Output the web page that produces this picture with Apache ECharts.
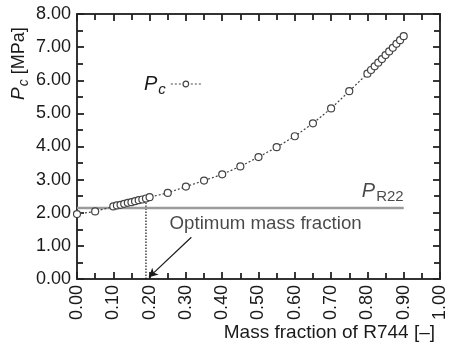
<!DOCTYPE html>
<html>
<head>
<meta charset="utf-8">
<script src="https://cdn.jsdelivr.net/npm/echarts@6/dist/echarts.min.js"></script>
<style>
  html, body { margin: 0; padding: 0; background: #fff; }
  #chart { width: 449px; height: 352px; }
</style>
</head>
<body>
<div id="chart"></div>
<script>
// mass fraction of R744 and condensing pressure
const massFraction = [0.00, 0.05, 0.10, 0.11, 0.12, 0.13, 0.14, 0.15, 0.16, 0.17, 0.18, 0.19, 0.20,
  0.25, 0.30, 0.35, 0.40, 0.45, 0.50, 0.55, 0.60, 0.65, 0.70, 0.75,
  0.80, 0.81, 0.82, 0.83, 0.84, 0.85, 0.86, 0.87, 0.88, 0.89, 0.90]
const pc = [1.96, 2.04, 2.19, 2.22, 2.24, 2.27, 2.30, 2.32, 2.35, 2.38, 2.40, 2.43, 2.47,
  2.60, 2.79, 2.97, 3.16, 3.40, 3.68, 3.98, 4.31, 4.70, 5.15, 5.67,
  6.20, 6.31, 6.42, 6.53, 6.64, 6.76, 6.87, 6.98, 7.10, 7.21, 7.33]
const pR22 = 2.14
const pR22Range = [0.00, 0.90]
const optimumFraction = 0.19
const optimumPc = 2.43
const xTicks = ['0.00', '0.10', '0.20', '0.30', '0.40', '0.50', '0.60', '0.70', '0.80', '0.90', '1.00']
const yTicks = ['0.00', '1.00', '2.00', '3.00', '4.00', '5.00', '6.00', '7.00', '8.00']

const font = 'Liberation Sans, Arial, sans-serif'
const ink = '#1a1a1a'
const axisInk = '#333'

// fresh objects for every axis, ticks pointing into the plot
function frame (extra) {
  return Object.assign({
    type: 'value',
    axisLine: { show: true, onZero: false, lineStyle: { color: axisInk, width: 2 } },
    axisTick: { show: true, inside: true, length: 7, lineStyle: { color: '#222', width: 1.8 } },
    minorTick: { show: true, splitNumber: 2, length: 6, lineStyle: { color: '#222', width: 1.8 } },
    splitLine: { show: false },
    minorSplitLine: { show: false }
  }, extra)
}
const markerStyle = { color: '#fff', borderColor: '#444', borderWidth: 1.2 }

let chart = echarts.init(document.getElementById('chart'))

chart.setOption({
  backgroundColor: '#fff',
  animation: false,
  grid: { left: 77, right: 4, top: 14, bottom: 73 },
  legend: {
    data: ['Pc'],
    left: 139,
    top: 69,
    align: 'right',
    itemWidth: 30,
    itemHeight: 7,
    itemGap: 6,
    itemStyle: markerStyle,
    lineStyle: { color: '#666', width: 1.2, type: [2, 2] },
    formatter: () => '{i|P}{s|c}',
    textStyle: {
      rich: {
        i: { fontFamily: font, fontStyle: 'italic', fontSize: 20, color: ink },
        s: { fontFamily: font, fontStyle: 'italic', fontSize: 15, color: ink, padding: [12, 0, 0, 1] }
      }
    }
  },
  xAxis: [
    frame({
      min: 0, max: 1, interval: 0.1,
      axisLabel: {
        rotate: 90, margin: 6, fontFamily: font, fontSize: 18, color: ink,
        formatter: (v) => xTicks[Math.round(v * 10)]
      }
    }),
    frame({ position: 'top', min: 0, max: 1, interval: 0.1, axisLabel: { show: false } })
  ],
  yAxis: [
    frame({
      min: 0, max: 8, interval: 1,
      axisLabel: {
        margin: 6, fontFamily: font, fontSize: 18, color: ink,
        formatter: (v) => yTicks[Math.round(v)]
      }
    }),
    frame({ position: 'right', min: 0, max: 8, interval: 1, axisLabel: { show: false } })
  ],
  graphic: [{
    type: 'text',
    x: 19,
    y: 100,
    rotation: Math.PI / 2,
    style: {
      text: '{i|P}{s|c}{n| [MPa]}',
      align: 'left',
      verticalAlign: 'middle',
      rich: {
        i: { fontFamily: font, fontStyle: 'italic', fontSize: 19, fill: ink },
        s: { fontFamily: font, fontStyle: 'italic', fontSize: 14, fill: ink, padding: [10, 0, 0, 1] },
        n: { fontFamily: font, fontSize: 18, fill: ink }
      }
    }
  }, {
    type: 'text',
    right: 14,
    bottom: 10,
    style: { text: 'Mass fraction of R744 [–]', fontFamily: font, fontSize: 19, fill: ink }
  }],
  series: [{
    name: 'Pc',
    type: 'line',
    data: massFraction.map((x, i) => [x, pc[i]]),
    symbol: 'circle',
    symbolSize: 7,
    showAllSymbol: true,
    itemStyle: markerStyle,
    lineStyle: { color: '#444', width: 1.2, type: [2, 2] },
    z: 5
  }, {
    name: 'PR22',
    type: 'line',
    data: [[pR22Range[0], pR22], [pR22Range[1], pR22]],
    symbol: 'none',
    lineStyle: { color: '#9a9a9a', width: 2.5 },
    silent: true,
    z: 3
  }, {
    name: 'optimum',
    type: 'line',
    data: [[optimumFraction, 0], [optimumFraction, optimumPc]],
    symbol: 'none',
    lineStyle: { color: '#111', width: 1.2, type: [1.5, 1.5] },
    silent: true,
    z: 2,
    markLine: {
      silent: true,
      symbol: ['none', 'arrow'],
      symbolSize: [7, 9],
      lineStyle: { color: '#1a1a1a', width: 1.2, type: 'solid' },
      label: { show: false },
      data: [[{ coord: [0.315, 1.26] }, { coord: [0.198, 0.05] }]]
    }
  }, {
    name: 'note',
    type: 'scatter',
    symbolSize: 0,
    silent: true,
    data: [{
      value: [0.255, 1.67],
      label: {
        show: true, position: 'right', distance: 0,
        formatter: 'Optimum mass fraction',
        fontFamily: font, fontSize: 18.7, color: ink
      }
    }, {
      value: [pR22Range[1], pR22],
      label: {
        show: true, position: 'top', align: 'right', distance: 4,
        formatter: () => '{i|P}{s|R22}',
        rich: {
          i: { fontFamily: font, fontStyle: 'italic', fontSize: 20, color: ink },
          s: { fontFamily: font, fontSize: 15, color: ink, padding: [10, 0, 0, 1] }
        }
      }
    }]
  }]
})
</script>
</body>
</html>
